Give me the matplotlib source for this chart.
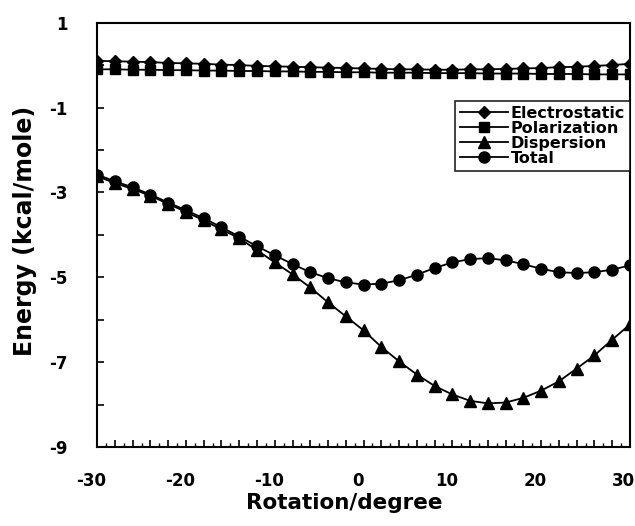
import numpy as np
import matplotlib
matplotlib.use("Agg")
import matplotlib.pyplot as plt
from matplotlib.ticker import MultipleLocator, FuncFormatter
from matplotlib.transforms import ScaledTranslation

plt.rcParams['font.family'] = ['DejaVu Sans']
plt.rcParams['font.weight'] = 'bold'

# rotation angle (degree), one point every 2 degrees
rotation = np.arange(-30, 31, 2)

electrostatic = [0.10, 0.09, 0.08, 0.07, 0.05, 0.04, 0.03, 0.01, 0.0, -0.02,
                 -0.03, -0.04, -0.05, -0.06, -0.07, -0.08, -0.09, -0.1, -0.1, -0.11,
                 -0.11, -0.1, -0.1, -0.09, -0.08, -0.07, -0.05, -0.04, -0.02, 0.0, 0.03]
polarization = [-0.10, -0.10, -0.11, -0.11, -0.12, -0.12, -0.13, -0.13, -0.14, -0.14,
                -0.15, -0.15, -0.16, -0.16, -0.17, -0.17, -0.18, -0.18, -0.18, -0.19,
                -0.19, -0.19, -0.20, -0.20, -0.20, -0.21, -0.21, -0.21, -0.22, -0.22, -0.22]
dispersion = [-2.62, -2.78, -2.92, -3.08, -3.27, -3.46, -3.66, -3.87, -4.08, -4.36,
              -4.65, -4.93, -5.24, -5.59, -5.92, -6.25, -6.64, -6.98, -7.29, -7.56,
              -7.76, -7.91, -7.97, -7.95, -7.84, -7.67, -7.45, -7.15, -6.84, -6.47, -6.11]
total = [-2.58, -2.74, -2.88, -3.05, -3.24, -3.42, -3.61, -3.82, -4.04, -4.27,
         -4.48, -4.69, -4.88, -5.02, -5.12, -5.17, -5.15, -5.07, -4.94, -4.78,
         -4.65, -4.57, -4.55, -4.60, -4.69, -4.80, -4.88, -4.90, -4.88, -4.82, -4.72]

fig = plt.figure(figsize=(6.35, 5.26), dpi=100)
ax = fig.add_axes([0.153, 0.150, 0.839, 0.807])

ax.plot(rotation, electrostatic, 'k-', marker='D', ms=6.5, lw=1.3, label='Electrostatic')
ax.plot(rotation, polarization, 'k-', marker='s', ms=6.5, lw=1.3, label='Polarization')
ax.plot(rotation, dispersion, 'k-', marker='^', ms=8.5, lw=1.3, label='Dispersion')
ax.plot(rotation, total, 'k-', marker='o', ms=8, lw=1.3, label='Total')

ax.set_xlim(-30, 30)
ax.set_ylim(-9, 1)
ax.xaxis.set_major_locator(MultipleLocator(2))
ax.xaxis.set_minor_locator(MultipleLocator(1))
ax.xaxis.set_major_formatter(FuncFormatter(lambda v, p: '%d' % v if round(v) % 10 == 0 else ''))
ax.yaxis.set_major_locator(MultipleLocator(1))
ax.yaxis.set_major_formatter(FuncFormatter(lambda v, p: '%d' % v if round(v) % 2 != 0 else ''))

ax.tick_params(axis='x', which='major', direction='in', length=5, width=1.2, pad=18, labelsize=12)
ax.tick_params(axis='x', which='minor', direction='in', length=3, width=1.0)
ax.tick_params(axis='y', which='major', direction='in', length=5, width=1.2, pad=21, labelsize=12)
for s in ax.spines.values():
    s.set_linewidth(1.5)

# labels in the original sit a few pixels left of their ticks
shift = ScaledTranslation(-0.06, 0, fig.dpi_scale_trans)
for t in ax.xaxis.get_major_ticks():
    t.label1.set_transform(t.label1.get_transform() + shift)

ax.set_xlabel('Rotation/degree', fontsize=15.5, fontweight='bold')
ax.set_ylabel('Energy (kcal/mole)', fontsize=17, fontweight='bold')
ax.xaxis.set_label_coords(0.463, -0.108)
ax.yaxis.set_label_coords(-0.113, 0.51)

leg = ax.legend(loc='upper right', bbox_to_anchor=(1.0, 0.815), borderaxespad=0,
                fontsize=11.5, handlelength=3.0, handletextpad=0.2, labelspacing=0.0,
                borderpad=0.3, fancybox=False, frameon=True)
leg.get_frame().set_edgecolor('black')
leg.get_frame().set_linewidth(1.3)

fig.savefig('out.png', dpi=100)
